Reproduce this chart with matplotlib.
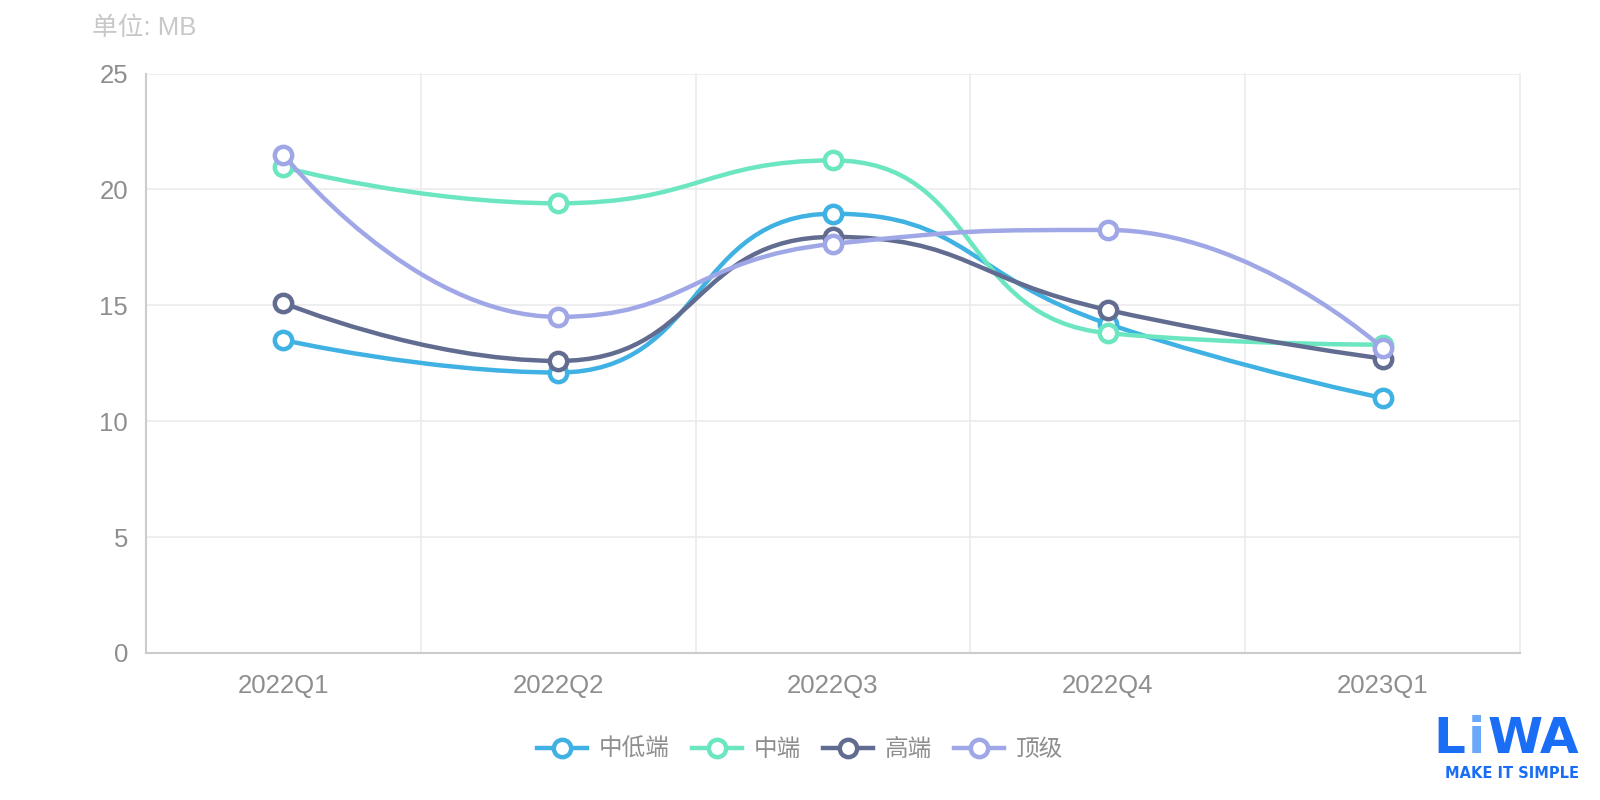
import numpy as np
import matplotlib
matplotlib.use('Agg')
import matplotlib.pyplot as plt
from matplotlib.path import Path
from matplotlib.patches import PathPatch
from matplotlib.lines import Line2D
from matplotlib.text import Annotation

plt.rcParams['font.family'] = ['Liberation Sans', 'Noto Sans CJK SC', 'DejaVu Sans']

# 数据
quarters = ['2022Q1', '2022Q2', '2022Q3', '2022Q4', '2023Q1']
series_names = ['中低端', '中端', '高端', '顶级']
low_mid = [13.5, 12.1, 18.95, 14.2, 11.0]
mid = [20.95, 19.4, 21.25, 13.8, 13.3]
high = [15.1, 12.6, 17.95, 14.8, 12.7]
top = [21.5, 14.5, 17.65, 18.25, 13.15]
series_values = [low_mid, mid, high, top]
colors = ['#3FB1E3', '#6BE6C1', '#626C91', '#A0A7E6']

TICK_C = '#8E8E8E'
GRID_C = '#EBEBEB'
AXIS_C = '#CCCCCC'
LW = 3.2


def smooth_path(pts, smooth=0.5):
    """Bezier smoothing in pixel space (same rule as ECharts smooth line)."""
    verts = [tuple(pts[0])]
    codes = [Path.MOVETO]
    cp0 = tuple(pts[0])
    n = len(pts)
    for i in range(1, n):
        x, y = pts[i]
        px, py = pts[i - 1]
        if i == n - 1:
            cp1 = (x, y)
            ncp0 = None
        else:
            nx, ny = pts[i + 1]
            vx, vy = nx - px, ny - py
            len_prev = np.hypot(x - px, y - py)
            len_next = np.hypot(nx - x, ny - y)
            ratio = len_next / (len_next + len_prev)
            ncx = x + vx * smooth * ratio
            ncy = y + vy * smooth * ratio
            ncx = min(max(ncx, min(nx, x)), max(nx, x))
            ncy = min(max(ncy, min(ny, y)), max(ny, y))
            vx, vy = ncx - x, ncy - y
            c1x = x - vx * len_prev / len_next
            c1y = y - vy * len_prev / len_next
            c1x = min(max(c1x, min(px, x)), max(px, x))
            c1y = min(max(c1y, min(py, y)), max(py, y))
            vx, vy = x - c1x, y - c1y
            ncp0 = (x + vx * len_next / len_prev, y + vy * len_next / len_prev)
            cp1 = (c1x, c1y)
        verts += [cp0, cp1, (x, y)]
        codes += [Path.CURVE4] * 3
        cp0 = ncp0
    return np.array(verts), codes


fig = plt.figure(figsize=(16, 8), dpi=100)
fig.patch.set_facecolor('white')
ax = fig.add_axes([146 / 1600, 1 - 653 / 800, (1520 - 146) / 1600, (653 - 73.5) / 800])

x = np.arange(len(quarters))
ax.set_xlim(-0.5, len(quarters) - 0.5)
ax.set_ylim(0, 25)
ax.set_yticks(np.arange(0, 26, 5))
ax.set_xticks(x)
ax.set_xticklabels(quarters)

# 网格
for yv in np.arange(5, 26, 5):
    ax.axhline(yv, color=GRID_C, lw=1.2, zorder=0)
for xb in np.arange(0.5, len(quarters), 1):
    ax.axvline(xb, color=GRID_C, lw=1.2, zorder=0, clip_on=False)

for s in ['top', 'right']:
    ax.spines[s].set_visible(False)
for s in ['left', 'bottom']:
    ax.spines[s].set_color(AXIS_C)
    ax.spines[s].set_linewidth(1.5)
ax.tick_params(axis='both', length=0, colors=TICK_C, labelsize=18.5)
ax.tick_params(axis='y', pad=13)
ax.tick_params(axis='x', pad=15)

# 曲线
inv = ax.transData.inverted()
for k, (vals, c) in enumerate(zip(series_values, colors)):
    pts = ax.transData.transform(np.column_stack([x, vals]))
    verts, codes = smooth_path(pts)
    path = Path(inv.transform(verts), codes)
    ax.add_patch(PathPatch(path, fill=False, edgecolor=c, lw=LW,
                           capstyle='round', joinstyle='round', zorder=3 + k))
    ax.plot(x, vals, ls='none', marker='o', ms=12.5, mfc='white', mec=c,
            mew=LW, zorder=3.5 + k, clip_on=False)

# 单位
fig.text(92 / 1600, 1 - 28 / 800, '单位: MB', ha='left', va='center',
         fontsize=18.5, color='#C8C8C8')

# 图例
handles = [Line2D([], [], color=c, lw=LW, marker='o', ms=12.5, mfc='white',
                  mec=c, mew=LW) for c in colors]
leg = fig.legend(handles, series_names, loc='center', ncol=4, frameon=False,
                 bbox_to_anchor=(0.5, 1 - 750 / 800), fontsize=17,
                 handlelength=2.1, handletextpad=0.5, columnspacing=0.95)
for t in leg.get_texts():
    t.set_color(TICK_C)

# 标志
logo_blue = '#1A6EF5'
t1 = fig.text(1433 / 1600, 1 - 753 / 800, 'L', ha='left', va='baseline',
              fontsize=36, fontweight='bold', color=logo_blue, family='DejaVu Sans')
a2 = fig.add_artist(Annotation('i', xy=(1, 0), xycoords=t1, xytext=(2, 0),
                               textcoords='offset points', ha='left', va='bottom',
                               fontsize=36, fontweight='bold', color='#6AA8FB',
                               family='DejaVu Sans'))
a3 = fig.add_artist(Annotation('WA', xy=(1, 0), xycoords=a2, xytext=(2, 0),
                               textcoords='offset points', ha='left', va='bottom',
                               fontsize=36, fontweight='bold', color=logo_blue,
                               family='DejaVu Sans'))
fig.text(1512 / 1600, 1 - 774 / 800, 'MAKE IT SIMPLE', ha='center', va='center',
         fontsize=10.5, fontweight='bold', color=logo_blue, family='DejaVu Sans')

fig.savefig('out.png', dpi=100, facecolor='white')
